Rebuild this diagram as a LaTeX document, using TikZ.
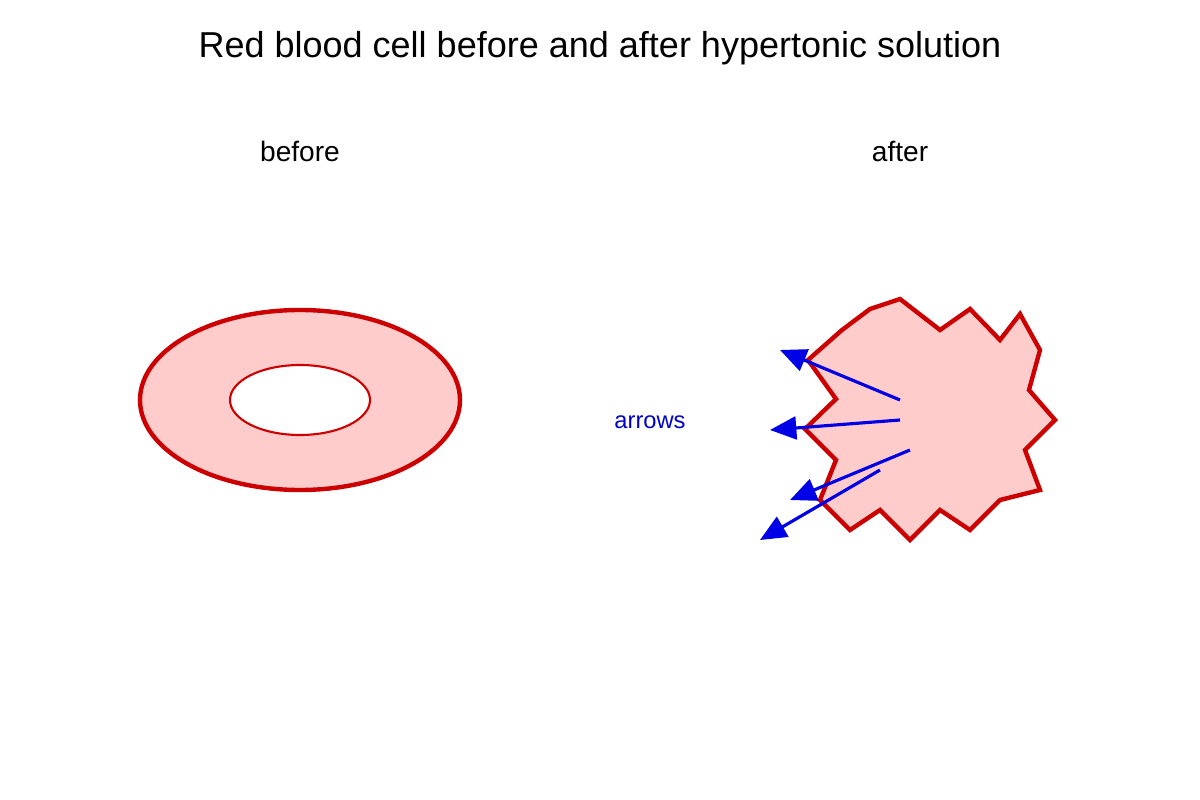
\documentclass[tikz,border=0pt]{standalone}
\usepackage{fontspec}
\setmainfont{Liberation Sans}
\usetikzlibrary{arrows.meta}
\definecolor{cellred}{RGB}{204,0,0}
\definecolor{cellfill}{RGB}{255,204,204}
\begin{document}
\begin{tikzpicture}[x=0.02cm,y=-0.02cm,
  lbl/.style={font=\fontsize{16}{19}\selectfont},
  flow/.style={draw={rgb,255:red,0;green,0;blue,230},line width=1.8pt,-{Triangle[length=15pt,width=13pt]}}]
\useasboundingbox (0,0) rectangle (1200,800);
\node[font=\fontsize{20.5}{24}\selectfont] (title) at (600,48) {Red blood cell before and after hypertonic solution};
\node[lbl] (before) at (300,151) {before};
\node[lbl] (after) at (900,151) {after};
\node[font=\fontsize{13.5}{16}\selectfont,text={rgb,255:red,0;green,0;blue,204}] (arr) at (650,422) {arrows};
\draw[cellred,fill=cellfill,line width=2.5pt] (300,400) ellipse [x radius=160,y radius=90];
\draw[cellred,fill=white,line width=1.2pt] (300,400) ellipse [x radius=70,y radius=35];
\draw[cellred,fill=cellfill,line width=2.5pt,line join=miter]
 (808,360)--(842,330)--(870,309)--(900,299)--(940,330)--(970,309)--(1000,340)--(1020,314)--(1040,350)--(1029,390)--(1055,420)--(1025,450)--(1040,490)--(1000,500)--(970,530)--(940,510)--(910,540)--(880,510)--(850,530)--(820,500)--(836,460)--(805,429)--(836,399)--cycle;
\coordinate (s1) at (900,400); \coordinate (e1) at (780,350);
\coordinate (s2) at (900,420); \coordinate (e2) at (770,430);
\coordinate (s3) at (910,450); \coordinate (e3) at (790,500);
\coordinate (s4) at (880,470); \coordinate (e4) at (760,540);
\draw[flow] (s1)--(e1);
\draw[flow] (s2)--(e2);
\draw[flow] (s3)--(e3);
\draw[flow] (s4)--(e4);
\end{tikzpicture}
\end{document}
